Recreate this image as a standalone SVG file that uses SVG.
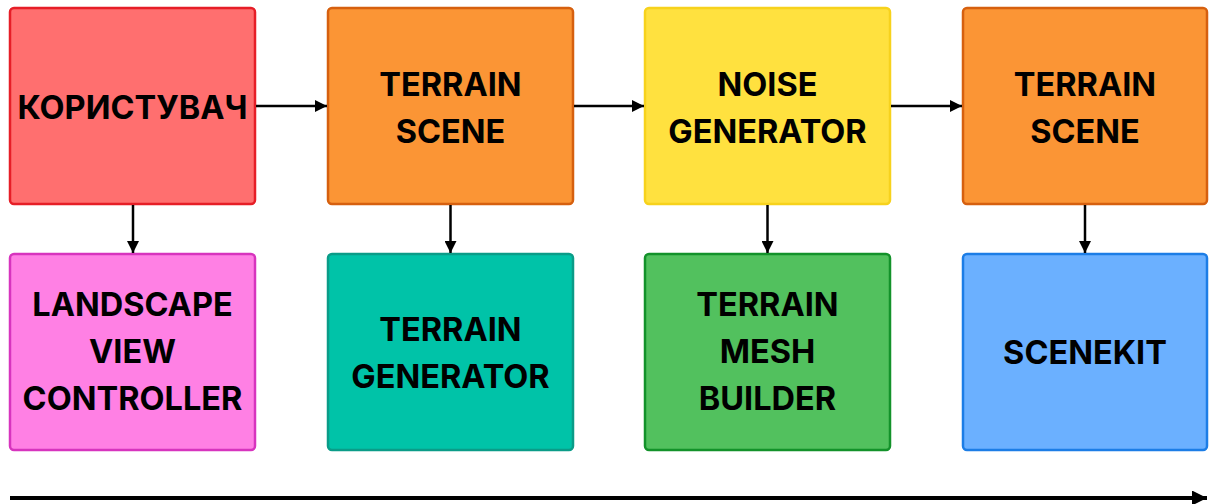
<svg xmlns="http://www.w3.org/2000/svg" width="1209" height="504" viewBox="0 0 1209 504">
  <style>
    .box { stroke-width: 2.5; }
    .lbl { font-family: Inter, "Noto Sans", "Liberation Sans", sans-serif; font-weight: 700; font-size: 32.5px; fill: #000; text-anchor: middle; }
    .wire { stroke: #000; stroke-width: 2.5; fill: none; }
    .timeline { stroke: #000; stroke-width: 4; fill: none; }
    .red { fill: #FF6F6F; stroke: #E61E27; }
    .orange { fill: #FB9535; stroke: #D6600F; }
    .yellow { fill: #FFE13F; stroke: #F7D21C; }
    .pink { fill: #FF80E4; stroke: #D734BE; }
    .teal { fill: #00C3A8; stroke: #0A9C88; }
    .green { fill: #52C15E; stroke: #13922A; }
    .blue { fill: #6BB0FF; stroke: #1C7DE6; }
  </style>
  <defs>
    <marker id="head" viewBox="0 0 12 12" refX="12" refY="6" markerWidth="12" markerHeight="12" markerUnits="userSpaceOnUse" orient="auto">
      <path d="M0,0 L12,6 L0,12 Z" fill="#000"/>
    </marker>
    <marker id="bighead" viewBox="0 0 15 15" refX="15" refY="7.5" markerWidth="15" markerHeight="15" markerUnits="userSpaceOnUse" orient="auto">
      <path d="M0,0 L15,7.5 L0,15 Z" fill="#000"/>
    </marker>
  </defs>

  <!-- top row -->
  <g id="user">
    <rect class="box red" x="10" y="8" width="245" height="196" rx="4"/>
    <text class="lbl" x="132.5" y="119">КОРИСТУВАЧ</text>
  </g>
  <g id="terrain-scene-1">
    <rect class="box orange" x="328" y="8" width="245" height="196" rx="4"/>
    <text class="lbl" x="450.5" y="96">TERRAIN</text>
    <text class="lbl" x="450.5" y="143">SCENE</text>
  </g>
  <g id="noise-generator">
    <rect class="box yellow" x="645" y="8" width="245" height="196" rx="4"/>
    <text class="lbl" x="767.5" y="96">NOISE</text>
    <text class="lbl" x="767.5" y="143">GENERATOR</text>
  </g>
  <g id="terrain-scene-2">
    <rect class="box orange" x="963" y="8" width="244" height="196" rx="4"/>
    <text class="lbl" x="1085" y="96">TERRAIN</text>
    <text class="lbl" x="1085" y="143">SCENE</text>
  </g>

  <!-- bottom row -->
  <g id="landscape-view-controller">
    <rect class="box pink" x="10" y="254" width="245" height="196" rx="4"/>
    <text class="lbl" x="132.5" y="316">LANDSCAPE</text>
    <text class="lbl" x="132.5" y="363">VIEW</text>
    <text class="lbl" x="132.5" y="410">CONTROLLER</text>
  </g>
  <g id="terrain-generator">
    <rect class="box teal" x="328" y="254" width="245" height="196" rx="4"/>
    <text class="lbl" x="450.5" y="341">TERRAIN</text>
    <text class="lbl" x="450.5" y="388">GENERATOR</text>
  </g>
  <g id="terrain-mesh-builder">
    <rect class="box green" x="645" y="254" width="245" height="196" rx="4"/>
    <text class="lbl" x="767.5" y="316">TERRAIN</text>
    <text class="lbl" x="767.5" y="363">MESH</text>
    <text class="lbl" x="767.5" y="410">BUILDER</text>
  </g>
  <g id="scenekit">
    <rect class="box blue" x="963" y="254" width="244" height="196" rx="4"/>
    <text class="lbl" x="1085" y="364">SCENEKIT</text>
  </g>

  <!-- connectors -->
  <g id="connectors">
    <line class="wire" x1="256" y1="106" x2="327" y2="106" marker-end="url(#head)"/>
    <line class="wire" x1="574" y1="106" x2="644" y2="106" marker-end="url(#head)"/>
    <line class="wire" x1="891" y1="106" x2="962" y2="106" marker-end="url(#head)"/>
    <line class="wire" x1="133" y1="205" x2="133" y2="253" marker-end="url(#head)"/>
    <line class="wire" x1="450.5" y1="205" x2="450.5" y2="253" marker-end="url(#head)"/>
    <line class="wire" x1="767.5" y1="205" x2="767.5" y2="253" marker-end="url(#head)"/>
    <line class="wire" x1="1085" y1="205" x2="1085" y2="253" marker-end="url(#head)"/>
    <line class="timeline" x1="10" y1="498" x2="1207" y2="498" marker-end="url(#bighead)"/>
  </g>
</svg>
